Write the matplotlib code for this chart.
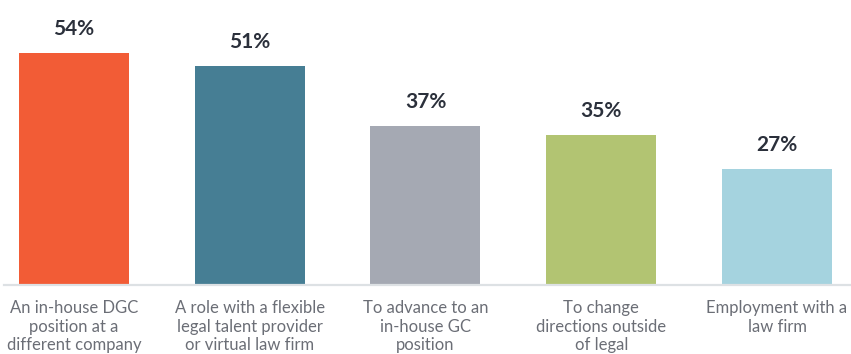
import matplotlib
matplotlib.use("Agg")
import matplotlib.pyplot as plt

categories = [
    "An in-house DGC\nposition at a\ndifferent company",
    "A role with a flexible\nlegal talent provider\nor virtual law firm",
    "To advance to an\nin-house GC\nposition",
    "To change\ndirections outside\nof legal",
    "Employment with a\nlaw firm",
]
values = [54, 51, 37, 35, 27]
colors = ["#F25C36", "#467E94", "#A5A9B3", "#B2C472", "#A5D3DF"]

fig = plt.figure(figsize=(8.51, 3.54), dpi=100)
ax = fig.add_axes([4/851, 69/354, 1 - 4/851, 285/354])

x = list(range(len(values)))
ax.bar(x, values, width=0.626, color=colors, zorder=2)
ax.set_xlim(-0.398, 4.421)
ax.set_ylim(0, 66.3)

for xi, v in zip(x, values):
    ax.annotate(f"{v}%", (xi, v), xytext=(0, 10), textcoords="offset points",
                ha="center", va="bottom", fontsize=15, fontweight="bold",
                family="Lato", color="#2B303B")

ax.set_xticks(x)
ax.set_xticklabels(categories, fontsize=12, family="Lato", color="#6B6E76",
                   linespacing=1.2)
ax.tick_params(axis="x", length=0, pad=11)
ax.set_yticks([])
for s in ["top", "right", "left"]:
    ax.spines[s].set_visible(False)
ax.spines["bottom"].set_color("#DDE1E4")
ax.spines["bottom"].set_linewidth(1.6)
ax.spines["bottom"].set_zorder(3)

fig.savefig("out.png", dpi=100)
